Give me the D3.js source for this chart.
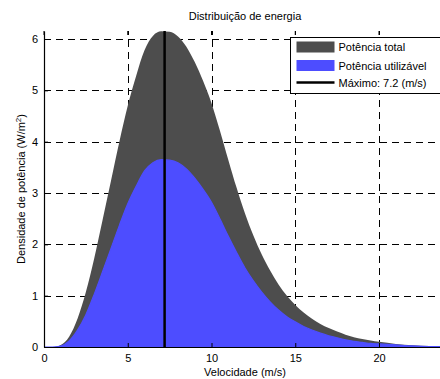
<!DOCTYPE html>
<html>
<head>
  <meta charset="utf-8">
  <script src="https://cdn.jsdelivr.net/npm/d3@7/dist/d3.min.js"></script>
  <style>
    body { margin: 0; background: #ffffff; }
    text { font-family: "Liberation Sans", Arial, Helvetica, sans-serif; font-size: 11px; fill: #000; }
  </style>
</head>
<body>
  <svg id="mainsvg" width="440" height="379"></svg>
  <script>
    // values
    const speeds = [0, 0.5, 1, 1.5, 2, 2.5, 3, 3.5, 4, 4.5, 5, 5.5, 6, 6.5, 7, 7.5, 8, 8.5, 9, 9.5,
      10, 10.5, 11, 11.5, 12, 12.5, 13, 13.5, 14, 14.5, 15, 15.5, 16, 16.5, 17, 17.5, 18, 18.5, 19, 19.5,
      20, 21, 22, 23, 24];
    const totalPower = [0, 0, 0.04, 0.2, 0.55, 1.07, 1.73, 2.48, 3.24, 4.0, 4.7, 5.28, 5.78, 6.06, 6.15, 6.14, 6.05, 5.85, 5.55, 5.18,
      4.75, 4.22, 3.65, 3.1, 2.6, 2.17, 1.8, 1.49, 1.22, 1.0, 0.82, 0.67, 0.55, 0.45, 0.37, 0.3, 0.24, 0.19, 0.155, 0.125,
      0.1, 0.06, 0.035, 0.02, 0.01];
    const usablePower = [0, 0, 0.02, 0.12, 0.33, 0.63, 1.03, 1.47, 1.92, 2.37, 2.79, 3.13, 3.43, 3.59, 3.65, 3.64, 3.59, 3.47, 3.29, 3.07,
      2.82, 2.5, 2.16, 1.84, 1.54, 1.29, 1.07, 0.88, 0.72, 0.59, 0.49, 0.4, 0.33, 0.27, 0.22, 0.18, 0.14, 0.11, 0.09, 0.07,
      0.06, 0.04, 0.02, 0.01, 0.01];
    const maxSpeed = 7.2;
    const xTicks = [0, 5, 10, 15, 20];
    const yTicks = [0, 1, 2, 3, 4, 5, 6];
    const legendLabels = ["Potência total", "Potência utilizável", "Máximo: 7.2 (m/s)"];
    const colors = { total: "#4d4d4d", usable: "#4d4dff" };

    const svg = d3.select('#mainsvg');
    const margin = { top: 31, left: 44 };
    const plotW = 402, plotH = 316;

    const xScale = d3.scaleLinear().domain([0, 24]).range([margin.left, margin.left + plotW]);
    const yScale = d3.scaleLinear().domain([0, 6.156]).range([margin.top + plotH, margin.top]);

    const data = speeds.map((v, i) => ({ v: v, total: totalPower[i], usable: usablePower[i] }));

    svg.append("clipPath").attr("id", "plotclip")
      .append("rect")
      .attr("x", margin.left).attr("y", margin.top - 1)
      .attr("width", plotW).attr("height", plotH + 1);

    // grid
    const grid = svg.append("g").attr("stroke", "#000").attr("stroke-width", 1)
      .attr("stroke-dasharray", "7,5").attr("shape-rendering", "crispEdges");
    grid.selectAll(".vg").data(xTicks.slice(1)).enter().append("line")
      .attr("x1", d => Math.round(xScale(d)) + 0.5).attr("x2", d => Math.round(xScale(d)) + 0.5)
      .attr("y1", yScale(0)).attr("y2", margin.top);
    grid.selectAll(".hg").data(yTicks.slice(1)).enter().append("line")
      .attr("x1", margin.left).attr("x2", margin.left + plotW)
      .attr("y1", d => Math.round(yScale(d)) + 0.5).attr("y2", d => Math.round(yScale(d)) + 0.5);

    const plot = svg.append("g").attr("clip-path", "url(#plotclip)");

    const areaTotal = d3.area().x(d => xScale(d.v)).y0(yScale(0)).y1(d => yScale(d.total))
      .curve(d3.curveMonotoneX);
    const areaUsable = d3.area().x(d => xScale(d.v)).y0(yScale(0)).y1(d => yScale(d.usable))
      .curve(d3.curveMonotoneX);

    plot.append("path").attr("d", areaTotal(data)).attr("fill", colors.total);
    plot.append("path").attr("d", areaUsable(data)).attr("fill", colors.usable)
      .attr("stroke", colors.usable).attr("stroke-width", 1.2);

    plot.append("line")
      .attr("x1", xScale(maxSpeed)).attr("x2", xScale(maxSpeed))
      .attr("y1", yScale(0)).attr("y2", yScale(6.156))
      .attr("stroke", "#000").attr("stroke-width", 2.5);

    // axes
    const xAxis = d3.axisBottom(xScale).tickValues(xTicks).tickFormat(d3.format("d"))
      .tickSizeInner(-4).tickSizeOuter(0).tickPadding(7);
    const yAxis = d3.axisLeft(yScale).tickValues(yTicks).tickFormat(d3.format("d"))
      .tickSizeInner(-4).tickSizeOuter(0).tickPadding(6);
    const gx = svg.append("g").attr("transform", `translate(0, ${yScale(0)})`).call(xAxis);
    const gy = svg.append("g").attr("transform", `translate(${margin.left}, 0)`).call(yAxis);
    [gx, gy].forEach(g => {
      g.select(".domain").attr("stroke", "#000").attr("stroke-width", 1.2);
      g.selectAll(".tick line").attr("stroke", "#000");
      g.selectAll(".tick text").style("font-size", "11px")
        .style("font-family", '"Liberation Sans", Arial, sans-serif');
    });
    // top ticks
    svg.append("g").selectAll("line").data(xTicks).enter().append("line")
      .attr("x1", d => xScale(d)).attr("x2", d => xScale(d))
      .attr("y1", margin.top).attr("y2", margin.top + 4)
      .attr("stroke", "#000");

    // labels
    svg.append("text").attr("x", 245).attr("y", 20).attr("text-anchor", "middle")
      .text("Distribuição de energia");
    svg.append("text").attr("x", 245).attr("y", 376).attr("text-anchor", "middle")
      .text("Velocidade (m/s)");
    const yl = svg.append("text").attr("text-anchor", "middle")
      .attr("transform", `translate(25, ${margin.top + plotH / 2}) rotate(-90)`);
    yl.append("tspan").text("Densidade de potência (W/m");
    yl.append("tspan").attr("dy", -4).style("font-size", "8px").text("2");
    yl.append("tspan").attr("dy", 4).text(")");

    // legend
    const legend = svg.append("g").attr("transform", "translate(290.5, 37.5)");
    legend.append("rect").attr("width", 160).attr("height", 56)
      .attr("fill", "#fff").attr("stroke", "#000").attr("stroke-width", 1);
    const rows = [9.5, 28, 45];
    legend.append("rect").attr("x", 6).attr("y", rows[0] - 5.5).attr("width", 38).attr("height", 11)
      .attr("fill", colors.total);
    legend.append("rect").attr("x", 6).attr("y", rows[1] - 5.5).attr("width", 38).attr("height", 11)
      .attr("fill", colors.usable);
    legend.append("line").attr("x1", 6).attr("x2", 44).attr("y1", rows[2]).attr("y2", rows[2])
      .attr("stroke", "#000").attr("stroke-width", 2.5);
    legend.selectAll(".lt").data(legendLabels).enter().append("text")
      .attr("x", 48).attr("y", (d, i) => rows[i] + 4)
      .text(d => d);
  </script>
</body>
</html>
